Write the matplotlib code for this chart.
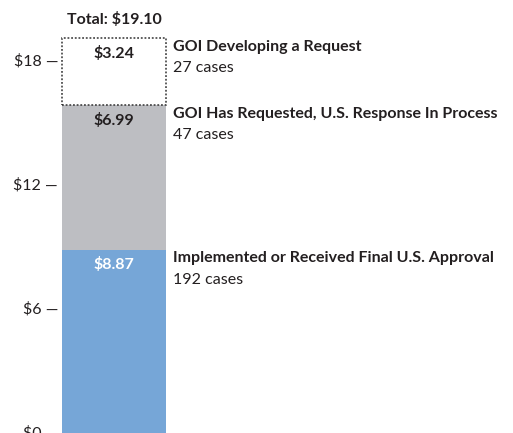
import matplotlib
matplotlib.use("Agg")
import matplotlib.pyplot as plt

plt.rcParams['font.family'] = ['Lato', 'DejaVu Sans']

# segments, bottom to top
segments = ["Implemented or Received Final U.S. Approval",
            "GOI Has Requested, U.S. Response In Process",
            "GOI Developing a Request"]
values = [8.87, 6.99, 3.24]
cases = [192, 47, 27]
colors = ['#76a6d7', '#bdbec2', 'white']
total = 19.10
yticks = [0, 6, 12, 18]

fig = plt.figure(figsize=(5.13, 4.33), dpi=100)
ax = fig.add_axes([0, 0, 1, 1])
ax.set_xlim(0, 513)
ax.set_ylim(0, 20.95)
ax.axis('off')

fs = 11.5
bar_x = 62
bar_w = 104
bottom = 0
for i, (name, v, n, c) in enumerate(zip(segments, values, cases, colors)):
    if i == 2:
        ax.bar(bar_x, v, width=bar_w, bottom=bottom, align='edge', color=c,
               edgecolor='#333333', linestyle=(0, (1.2, 1.2)), linewidth=1.1)
    else:
        ax.bar(bar_x, v, width=bar_w, bottom=bottom, align='edge', color=c, linewidth=0)
    top = bottom + v
    tc = 'white' if i == 0 else '#231f20'
    ax.annotate(f"${v:.2f}", (bar_x + bar_w / 2, top), xytext=(0, -5.5),
                textcoords='offset points', ha='center', va='top',
                fontsize=fs, fontweight='bold', color=tc)
    ax.annotate(name, (173, top), xytext=(0, -1), textcoords='offset points',
                ha='left', va='top', fontsize=fs, fontweight='bold', color='#231f20')
    ax.annotate(f"{n} cases", (173, top), xytext=(0, -16.5), textcoords='offset points',
                ha='left', va='top', fontsize=fs, color='#231f20')
    bottom = top

ax.annotate(f"Total: ${total:.2f}", (bar_x + bar_w / 2, total), xytext=(0, 8),
            textcoords='offset points', ha='center', va='bottom',
            fontsize=fs, fontweight='bold', color='#231f20')

for t in yticks:
    ax.text(58, t, f"${t} \u2014", ha='right', va='center', fontsize=fs, color='#231f20')

fig.savefig("out.png", dpi=100)
